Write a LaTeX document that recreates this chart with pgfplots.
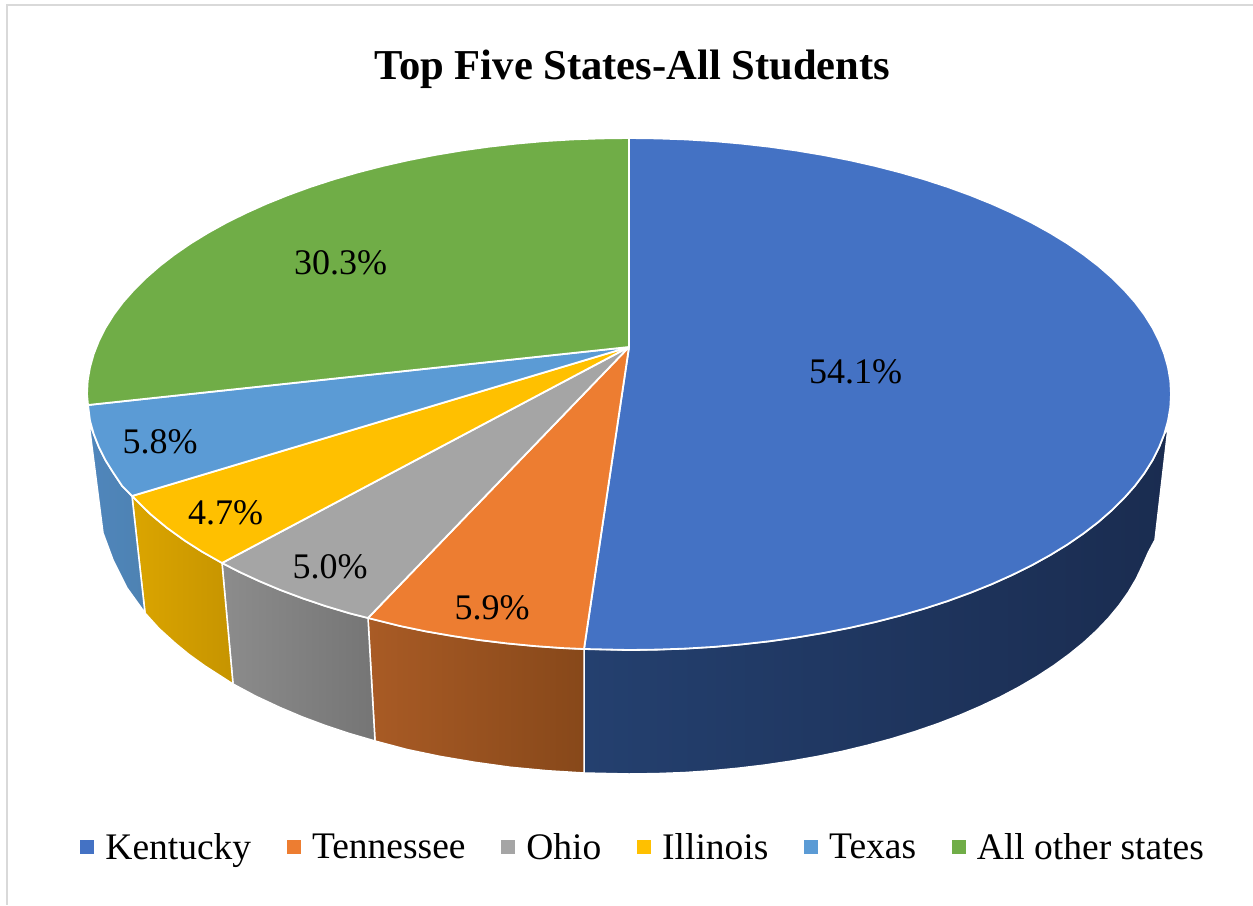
\documentclass[border=0pt]{standalone}
\usepackage{pgfplots}
\pgfplotsset{compat=1.18}
\usepackage{fontspec}
\setmainfont{Liberation Serif}
\definecolor{cBlue}{HTML}{4472C4}
\definecolor{cOrange}{HTML}{ED7D31}
\definecolor{cGray}{HTML}{A5A5A5}
\definecolor{cYellow}{HTML}{FFC000}
\definecolor{cSky}{HTML}{5B9BD5}
\definecolor{cGreen}{HTML}{70AD47}
\definecolor{cFrame}{HTML}{D9D9D9}
\definecolor{cBlueL}{HTML}{24406F}
\definecolor{cBlueD}{HTML}{1A2C50}
\definecolor{cOrangeL}{HTML}{A95B25}
\definecolor{cOrangeD}{HTML}{87481A}
\definecolor{cGrayL}{HTML}{8C8C8C}
\definecolor{cGrayD}{HTML}{757575}
\definecolor{cYellowL}{HTML}{DBA500}
\definecolor{cYellowD}{HTML}{C69400}
\definecolor{cSkyL}{HTML}{4F86BC}
\definecolor{cSkyD}{HTML}{4E82B2}
\pgfplotsset{
  sq/.style={legend image code/.code={\fill[##1] (0pt,-6.5pt) rectangle (13pt,6.5pt);}},
  face/.style={draw=white,line width=1.8pt,line join=round,fill=#1,forget plot},
}
\begin{document}
\begin{tikzpicture}
\begin{axis}[
  scale only axis,width=1253pt,height=905pt,
  xmin=0,xmax=1253,ymin=0,ymax=905,y dir=reverse,
  hide axis,
  legend style={at={(axis cs:644.5,847)},anchor=center,draw=none,fill=none,
    font=\fontsize{37.5}{40}\selectfont,legend columns=-1,
    /tikz/every even column/.append style={column sep=30.4pt},
    /tikz/every odd column/.append style={column sep=7pt},
    inner sep=0pt,outer sep=0pt,nodes={inner sep=5pt}},
  legend cell align=left,
]
% page extent
\addplot[draw=none,forget plot] coordinates {(0,0) (1253,905)};
% frame
\addplot[cFrame,line width=2.5pt,forget plot] coordinates {(1253,5) (7,5) (7,905)};
% side walls
\addplot[draw=white,line width=1.5pt,line join=round,forget plot,left color=cBlueL,middle color=cBlueD,right color=cBlueD] coordinates {
(1168,428)(1164.3,434)(1159.1,447.2)(1152.5,460.3)(1144.5,473.1)(1135,485.8)(1124.1,498.1)(1111.9,510.2)(1098.4,522)(1083.6,533.4)(1067.5,544.5)(1050.2,555.1)(1031.8,565.3)(1012.2,575)(991.7,584.2)(970.1,592.9)(947.6,601.1)(924.2,608.7)(900,615.7)(875.1,622.1)(849.4,627.9)(823.3,633)(796.5,637.5)(769.3,641.3)(741.7,644.4)(713.8,646.9)(685.6,648.6)(657.3,649.6)(629,650)(584,649)
(584,773)(629,774)(656.5,773.6)(683.9,772.6)(711.1,770.8)(738.1,768.2)(764.9,765)(791.2,761.1)(817.2,756.5)(842.5,751.3)(867.4,745.3)(891.5,738.8)(914.9,731.6)(937.6,723.8)(959.4,715.4)(980.3,706.4)(1000.2,697)(1019.1,687)(1037,676.5)(1053.7,665.6)(1069.3,654.2)(1083.7,642.5)(1096.8,630.4)(1108.6,618)(1119.1,605.3)(1128.3,592.3)(1136.1,579.1)(1142.5,565.7)(1148.5,552.1)(1155,540)
} --cycle;
\addplot[draw=white,line width=1.5pt,line join=round,forget plot,left color=cOrangeL,right color=cOrangeD] coordinates {
(584,649)(562.9,648.1)(534.9,646.1)(507,643.4)(479.6,640.1)(452.5,636)(426,631.4)(400,626)(368,618)(375,741)(407,749.5)(440,756.4)(475,762.3)(510,767.2)(547,770.7)(584,773)
} --cycle;
\addplot[draw=white,line width=1.5pt,line join=round,forget plot,left color=cGrayL,right color=cGrayD] coordinates {
(368,618)(349.9,613.4)(325.9,606.2)(302.8,598.4)(280.6,590.1)(259.4,581.2)(239.1,571.8)(222,563)(233,684)(256,696.3)(280,707.5)(302,716.8)(325,725.4)(350,733.7)(375,741)
} --cycle;
\addplot[draw=white,line width=1.5pt,line join=round,forget plot,left color=cYellowL,right color=cYellowD] coordinates {
(222,563)(201.9,551.6)(185,540.8)(166.9,527.8)(150.5,514.2)(132,496)(145,613)(159,628.5)(175,643)(189,654.5)(205,666)(233,684)
} --cycle;
\addplot[draw=white,line width=1.5pt,line join=round,forget plot,left color=cSkyL,right color=cSkyD] coordinates {
(132,496)(122,485.8)(113.5,473.1)(105.5,460.3)(98.9,447.2)(93.7,434)(89,423)(103,533)(113,560)(127,588)(145,613)
} --cycle;
% top faces
\addplot[face=cBlue] coordinates {
(629,347)(629,138)(657.3,138.4)(685.6,139.4)(713.8,141.1)(741.7,143.6)(769.3,146.7)(796.5,150.5)(823.3,155)(849.4,160.1)(875.1,165.9)(900,172.3)(924.2,179.3)(947.6,186.9)(970.1,195.1)(991.7,203.8)(1012.2,213)(1031.8,222.7)(1050.2,232.9)(1067.5,243.5)(1083.6,254.6)(1098.4,266)(1111.9,277.8)(1124.1,289.9)(1135,302.2)(1144.5,314.9)(1152.5,327.7)(1159.1,340.8)(1164.3,354)(1168,367.2)(1170.3,380.6)(1171,394)(1170.3,407.4)(1168,420.8)(1164.3,434)(1159.1,447.2)(1152.5,460.3)(1144.5,473.1)(1135,485.8)(1124.1,498.1)(1111.9,510.2)(1098.4,522)(1083.6,533.4)(1067.5,544.5)(1050.2,555.1)(1031.8,565.3)(1012.2,575)(991.7,584.2)(970.1,592.9)(947.6,601.1)(924.2,608.7)(900,615.7)(875.1,622.1)(849.4,627.9)(823.3,633)(796.5,637.5)(769.3,641.3)(741.7,644.4)(713.8,646.9)(685.6,648.6)(657.3,649.6)(629,650)(584,649)
} --cycle;
\addplot[face=cOrange] coordinates {
(629,347)(584,649)(562.9,648.1)(534.9,646.1)(507,643.4)(479.6,640.1)(452.5,636)(426,631.4)(400,626)(368,618)
} --cycle;
\addplot[face=cGray] coordinates {
(629,347)(368,618)(349.9,613.4)(325.9,606.2)(302.8,598.4)(280.6,590.1)(259.4,581.2)(239.1,571.8)(222,563)
} --cycle;
\addplot[face=cYellow] coordinates {
(629,347)(222,563)(201.9,551.6)(185,540.8)(166.9,527.8)(150.5,514.2)(132,496)
} --cycle;
\addplot[face=cSky] coordinates {
(629,347)(132,496)(122,485.8)(113.5,473.1)(105.5,460.3)(98.9,447.2)(93.7,434)(90,420.8)(88,405)
} --cycle;
\addplot[face=cGreen] coordinates {
(629,347)(88,405)(87,394)(87.7,380.6)(90,367.2)(93.7,354)(98.9,340.8)(105.5,327.7)(113.5,314.9)(123,302.2)(133.9,289.9)(146.1,277.8)(159.6,266)(174.4,254.6)(190.5,243.5)(207.8,232.9)(226.2,222.7)(245.8,213)(266.3,203.8)(287.9,195.1)(310.4,186.9)(333.8,179.3)(358,172.3)(382.9,165.9)(408.6,160.1)(434.7,155)(461.5,150.5)(488.7,146.7)(516.3,143.6)(544.2,141.1)(572.4,139.4)(600.7,138.4)(629,138)
} --cycle;
% legend
\addlegendimage{sq,cBlue}\addlegendentry{Kentucky}
\addlegendimage{sq,cOrange}\addlegendentry{Tennessee}
\addlegendimage{sq,cGray}\addlegendentry{Ohio}
\addlegendimage{sq,cYellow}\addlegendentry{Illinois}
\addlegendimage{sq,cSky}\addlegendentry{Texas}
\addlegendimage{sq,cGreen}\addlegendentry{All other states}
% labels
\node[font=\fontsize{42.6}{46}\selectfont\bfseries] at (axis cs:632.5,69) {Top Five States-All Students};
\node[font=\fontsize{36}{40}\selectfont] at (axis cs:855.5,372) {54.1\%};
\node[font=\fontsize{36}{40}\selectfont] at (axis cs:340.5,263) {30.3\%};
\node[font=\fontsize{36}{40}\selectfont] at (axis cs:492,608) {5.9\%};
\node[font=\fontsize{36}{40}\selectfont] at (axis cs:330,567) {5.0\%};
\node[font=\fontsize{36}{40}\selectfont] at (axis cs:225.5,513) {4.7\%};
\node[font=\fontsize{36}{40}\selectfont] at (axis cs:160,442) {5.8\%};
\end{axis}
\end{tikzpicture}
\end{document}
